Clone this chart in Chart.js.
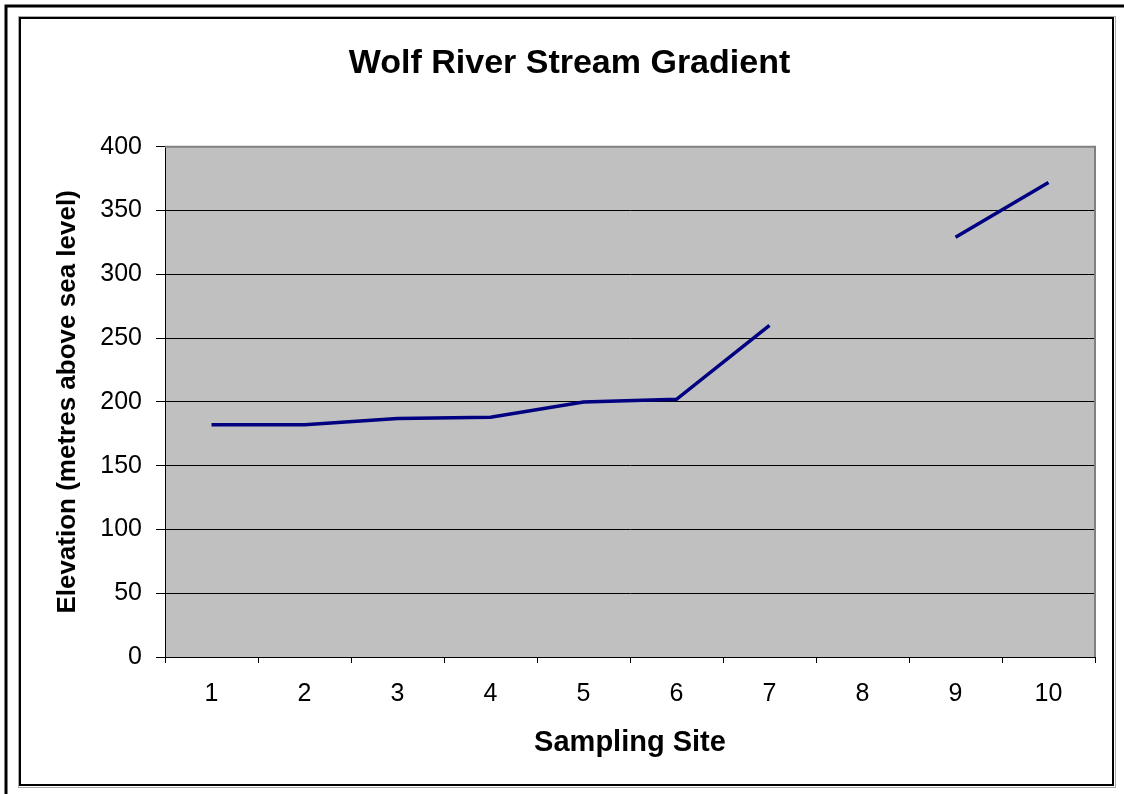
<!DOCTYPE html>
<html>
<head>
<meta charset="utf-8">
<script src="https://cdn.jsdelivr.net/npm/chart.js@4/dist/chart.umd.min.js"></script>
<style>
  html, body { margin: 0; padding: 0; background: #fff; }
  #wrap { width: 1124px; height: 794px; }
</style>
</head>
<body>
<div id="wrap"><canvas id="gradientChart" width="1124" height="794"></canvas></div>
<script>
const sites = ['1', '2', '3', '4', '5', '6', '7', '8', '9', '10'];
// site 8 has no reading, so the line breaks there
const elevation = [182, 182, 187, 188, 200, 202, 260, null, 329, 372];
const yTicks = [0, 50, 100, 150, 200, 250, 300, 350, 400];

const FONT = "'Liberation Sans', Arial, sans-serif";

// frame lines and grey plot background, like the old spreadsheet chart
const framePlugin = {
    id: 'frame',
    beforeDraw(chart) {
        const ctx = chart.ctx;
        const a = chart.chartArea;
        ctx.save();
        ctx.fillStyle = '#fff';
        ctx.fillRect(0, 0, chart.width, chart.height);

        ctx.strokeStyle = '#000';
        ctx.lineWidth = 3;
        ctx.beginPath();
        ctx.moveTo(6, chart.height);
        ctx.lineTo(6, 6);
        ctx.lineTo(chart.width, 6);
        ctx.stroke();

        ctx.strokeStyle = '#aaa';
        ctx.lineWidth = 1;
        ctx.strokeRect(18.5, 16.5, 1097, 771);
        ctx.strokeStyle = '#000';
        ctx.lineWidth = 2;
        ctx.strokeRect(20, 18, 1093, 767);

        ctx.fillStyle = '#c0c0c0';
        ctx.fillRect(a.left, a.top, a.right - a.left, a.bottom - a.top);
        ctx.restore();
    },
    beforeDatasetsDraw(chart) {
        const ctx = chart.ctx;
        const a = chart.chartArea;
        ctx.save();
        ctx.strokeStyle = '#808080';
        ctx.lineWidth = 2;
        ctx.beginPath();
        ctx.moveTo(a.left, a.top);
        ctx.lineTo(a.right, a.top);
        ctx.lineTo(a.right, a.bottom);
        ctx.stroke();
        ctx.restore();
    }
};

new Chart(document.getElementById('gradientChart'), {
    type: 'line',
    data: {
        labels: sites,
        datasets: [{
            label: 'Elevation',
            data: elevation,
            borderColor: '#000080',
            borderWidth: 3.5,
            pointRadius: 0,
            tension: 0,
            spanGaps: false,
            fill: false
        }]
    },
    options: {
        responsive: false,
        animation: false,
        layout: { padding: { left: 44, right: 29, top: 0, bottom: 0 } },
        plugins: {
            legend: { display: false },
            tooltip: { enabled: false },
            title: {
                display: true,
                text: 'Wolf River Stream Gradient',
                color: '#000',
                font: { family: FONT, size: 34, weight: 'bold' },
                padding: { top: 43, bottom: 63 }
            }
        },
        scales: {
            x: {
                offset: true,
                afterFit: (scale) => { scale.height = 137; },
                grid: {
                    offset: true,
                    drawOnChartArea: false,
                    drawTicks: true,
                    tickLength: 6,
                    color: '#000'
                },
                border: { display: true, color: '#000', width: 1 },
                ticks: {
                    color: '#000',
                    padding: 16,
                    maxRotation: 0,
                    font: { family: FONT, size: 25 }
                },
                title: {
                    display: true,
                    text: 'Sampling Site',
                    color: '#000',
                    font: { family: FONT, size: 29, weight: 'bold' },
                    padding: { top: 0, bottom: 34 }
                }
            },
            y: {
                min: 0,
                max: 400,
                afterFit: (scale) => { scale.width = 121; },
                afterBuildTicks: (scale) => { scale.ticks = yTicks.map(v => ({ value: v })); },
                grid: {
                    color: '#000',
                    lineWidth: 1,
                    drawTicks: true,
                    tickLength: 9
                },
                border: { display: true, color: '#000', width: 1 },
                ticks: {
                    color: '#000',
                    padding: 14,
                    font: { family: FONT, size: 25 }
                },
                title: {
                    display: true,
                    text: 'Elevation (metres above sea level)',
                    color: '#000',
                    font: { family: FONT, size: 26, weight: 'bold' },
                    padding: { top: 8, bottom: 0 }
                }
            }
        }
    },
    plugins: [framePlugin]
});
</script>
</body>
</html>
